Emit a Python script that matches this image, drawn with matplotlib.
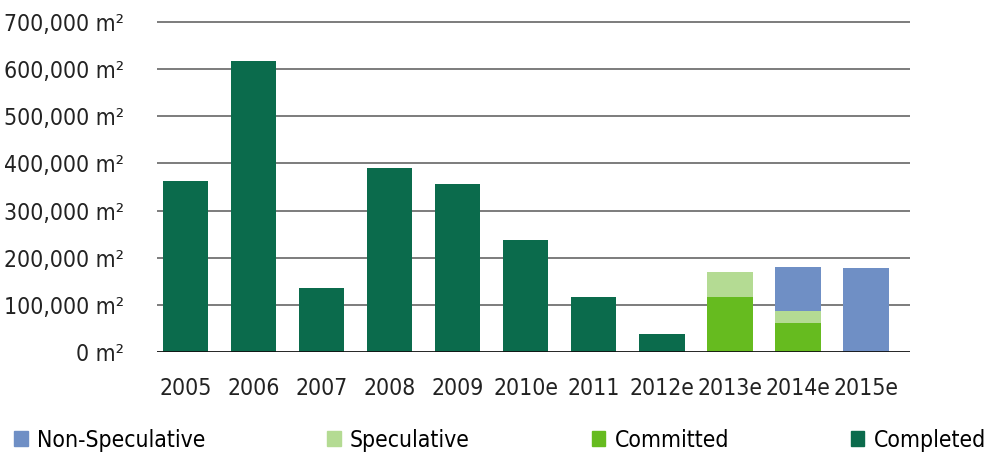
import matplotlib.pyplot as plt
from matplotlib.patches import Patch
import numpy as np

years = ["2005", "2006", "2007", "2008", "2009", "2010e", "2011", "2012e", "2013e", "2014e", "2015e"]
completed = [363000, 618000, 136000, 391000, 357000, 238000, 117000, 38000, 0, 0, 0]
committed = [0, 0, 0, 0, 0, 0, 0, 0, 117000, 62000, 0]
speculative = [0, 0, 0, 0, 0, 0, 0, 0, 53000, 25000, 0]
non_speculative = [0, 0, 0, 0, 0, 0, 0, 0, 0, 93000, 178000]

c_completed = "#0b6b4c"
c_committed = "#66bb1f"
c_speculative = "#b4db93"
c_nonspec = "#6f8fc5"

# narrow lettering like the original
plt.rcParams['font.family'] = ['DejaVu Sans']
plt.rcParams['font.stretch'] = 'condensed'

fig = plt.figure(figsize=(9.97, 4.63), dpi=100)
ax = fig.add_axes([157 / 997, 1 - 352 / 463, 753 / 997, (352 - 19.6) / 463])

x = np.arange(len(years))
w = 0.67
bottom = np.zeros(len(years))
for vals, col in [(completed, c_completed), (committed, c_committed),
                  (speculative, c_speculative), (non_speculative, c_nonspec)]:
    ax.bar(x, vals, w, bottom=bottom, color=col, zorder=3)
    bottom += np.array(vals)

ax.set_xlim(-0.42, 10.65)
ax.set_ylim(0, 705000)
yt = np.arange(0, 700001, 100000)
ax.set_yticks(yt)
ax.set_yticklabels([f"{v:,} m²" for v in yt], fontsize=16.5, color="#222222")
ax.set_xticks(x)
ax.set_xticklabels(years, fontsize=16.5, color="#222222")
ax.tick_params(length=0, axis="y", pad=24)
ax.tick_params(length=0, axis="x", pad=18)
for v in yt[1:]:
    ax.axhline(v, color="#666666", lw=1.2, zorder=1)
ax.axhline(0, color="#111111", lw=2, zorder=4)
for s in ax.spines.values():
    s.set_visible(False)

handles = [Patch(color=c_nonspec, label="Non-Speculative"),
           Patch(color=c_speculative, label="Speculative"),
           Patch(color=c_committed, label="Committed"),
           Patch(color=c_completed, label="Completed")]
fig.legend(handles=handles, loc="lower left", bbox_to_anchor=(0.005, 0.005, 0.993, 0.09),
           ncol=4, mode="expand", frameon=False, fontsize=16.5, handlelength=0.6,
           handleheight=0.6, handletextpad=0.4, borderaxespad=0)

fig.savefig("out.png", dpi=100)
